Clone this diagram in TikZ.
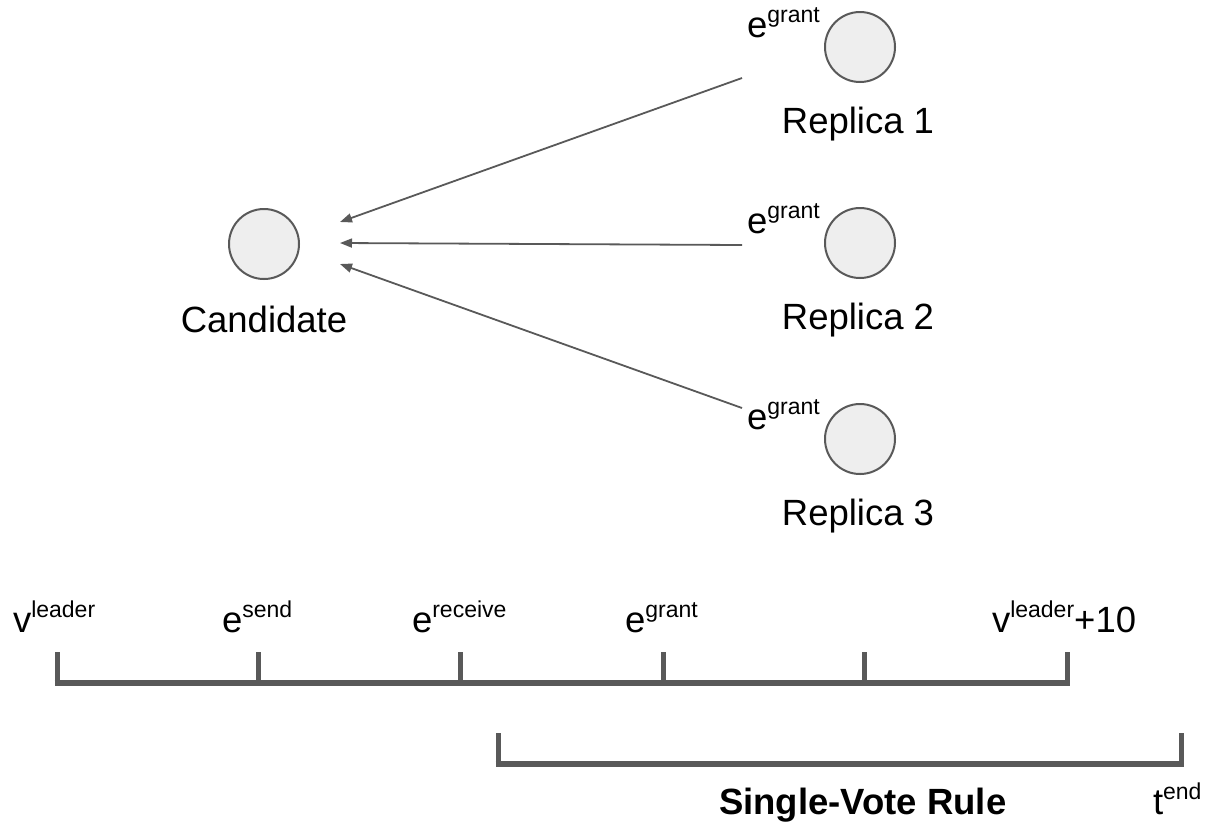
\documentclass[tikz,border=0pt]{standalone}
\usepackage{fontspec}
\setmainfont{Liberation Sans}
\usetikzlibrary{arrows.meta}
\definecolor{linegray}{HTML}{595959}
\definecolor{nodefill}{HTML}{EEEEEE}
% raised, smaller superscript text
\newcommand\supx[1]{\raisebox{15pt}{\fontsize{23}{26}\selectfont #1}}
\begin{document}
\begin{tikzpicture}[x=1pt,y=-1pt,
  every node/.style={inner sep=0pt,outer sep=0pt},
  proc/.style={circle,draw=linegray,fill=nodefill,line width=2pt,minimum size=70pt},
  txt/.style={anchor=base west,font=\fontsize{36.5}{42}\selectfont},
  ctxt/.style={anchor=base,font=\fontsize{36.5}{42}\selectfont},
  msg/.style={draw=linegray,line width=1.8pt,-{Triangle[length=12pt,width=9pt]}},
  bar/.style={draw=linegray,line width=6pt},
  tick/.style={draw=linegray,line width=5pt}]
\useasboundingbox (0,0) rectangle (1212,823);

% processes
\node[proc] (cand) at (264,244) {};
\node[proc] (r1) at (860,47) {};
\node[proc] (r2) at (860,243) {};
\node[proc] (r3) at (860,439) {};

\node[ctxt] (lcand) at (264,332) {Candidate};
\node[ctxt] (lr1) at (858,133) {Replica 1};
\node[ctxt] (lr2) at (858,329) {Replica 2};
\node[ctxt] (lr3) at (858,525) {Replica 3};

\node[txt] (g1) at (747,37) {e\supx{grant}};
\node[txt] (g2) at (747,233) {e\supx{grant}};
\node[txt] (g3) at (747,429) {e\supx{grant}};

% vote grant messages
\coordinate (s1) at (742,78);
\coordinate (s2) at (742,245);
\coordinate (s3) at (742,408);
\coordinate (t1) at (340,222);
\coordinate (t2) at (340,243);
\coordinate (t3) at (340,264);
\draw[msg] (s1) -- (t1);
\draw[msg] (s2) -- (t2);
\draw[msg] (s3) -- (t3);

% timeline
\coordinate (a0) at (57,683);
\coordinate (a5) at (1067,683);
\draw[bar] ([xshift=-2.5pt]a0) -- ([xshift=2.5pt]a5);
\foreach \x [count=\i] in {57,258,460,663,864,1067}
  \draw[tick] (\x,652) -- (\x,683);

\node[txt] (l0) at (13,632) {v\supx{leader}};
\node[txt] (l1) at (222,632) {e\supx{send}};
\node[txt] (l2) at (412,632) {e\supx{receive}};
\node[txt] (l3) at (625,632) {e\supx{grant}};
\node[txt] (l4) at (992,632) {v\supx{leader}+10};

% single-vote interval
\coordinate (b0) at (498,764);
\coordinate (b1) at (1181,764);
\draw[bar] ([xshift=-2.5pt]b0) -- ([xshift=2.5pt]b1);
\draw[tick] (498,733) -- (b0);
\draw[tick] (1181,733) -- (b1);

\node[txt,font=\fontsize{36.5}{42}\selectfont\bfseries] (rule) at (719,814) {Single-Vote Rule};
\node[txt] (tend) at (1153,814) {t\supx{end}};
\end{tikzpicture}
\end{document}
